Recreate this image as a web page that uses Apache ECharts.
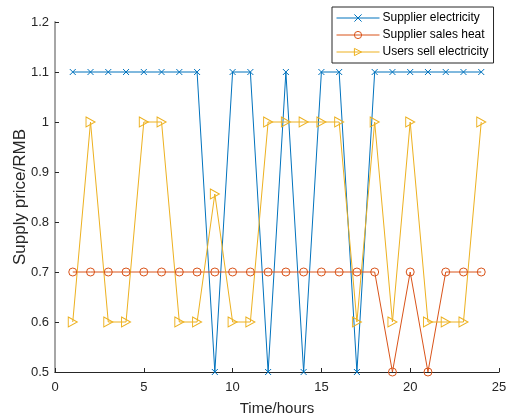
<!DOCTYPE html>
<html>
<head>
<meta charset="utf-8">
<script src="https://cdn.jsdelivr.net/npm/echarts@6/dist/echarts.min.js"></script>
<style>
  html, body { margin: 0; padding: 0; background: #fff; }
  #chart { width: 507px; height: 417px; }
</style>
</head>
<body>
<div id="chart"></div>
<script>
// Hourly supply prices (RMB) over one day
const hours = [1, 2, 3, 4, 5, 6, 7, 8, 9, 10, 11, 12, 13, 14, 15, 16, 17, 18, 19, 20, 21, 22, 23, 24];
const supplierElectricity = [1.1, 1.1, 1.1, 1.1, 1.1, 1.1, 1.1, 1.1, 0.5, 1.1, 1.1, 0.5, 1.1, 0.5, 1.1, 1.1, 0.5, 1.1, 1.1, 1.1, 1.1, 1.1, 1.1, 1.1];
const supplierSalesHeat = [0.7, 0.7, 0.7, 0.7, 0.7, 0.7, 0.7, 0.7, 0.7, 0.7, 0.7, 0.7, 0.7, 0.7, 0.7, 0.7, 0.7, 0.7, 0.5, 0.7, 0.5, 0.7, 0.7, 0.7];
const usersSellElectricity = [0.6, 1.0, 0.6, 0.6, 1.0, 1.0, 0.6, 0.6, 0.856, 0.6, 0.6, 1.0, 1.0, 1.0, 1.0, 1.0, 0.6, 1.0, 0.6, 1.0, 0.6, 0.6, 0.6, 1.0];
const seriesNames = ['Supplier electricity', 'Supplier sales heat', 'Users sell electricity'];

const COLORS = ['#0072BD', '#D95319', '#EDB120'];
const FONT = 'Liberation Sans, Arial, sans-serif';
const TEXT = '#262626';

function pairs(values) {
  return hours.map((h, i) => [h, values[i]]);
}

function lineSeries(name, values, color, symbol, size) {
  return {
    name: name,
    type: 'line',
    data: pairs(values),
    symbol: symbol,
    symbolSize: size,
    showAllSymbol: true,
    animation: false,
    lineStyle: { color: color, width: 1 },
    itemStyle: { color: 'rgba(255,255,255,0)', borderColor: color, borderWidth: 1 }
  };
}

const chart = echarts.init(document.getElementById('chart'), null, { renderer: 'canvas' });
chart.setOption({
  animation: false,
  backgroundColor: '#fff',
  textStyle: { fontFamily: FONT },
  grid: { left: 55, right: 8, top: 22, bottom: 45, containLabel: false, outerBoundsMode: 'none' },
  legend: {
    data: seriesNames,
    orient: 'vertical',
    left: 332,
    top: 7,
    itemWidth: 43,
    itemHeight: 9,
    itemGap: 5,
    padding: [5, 5, 5, 4],
    borderColor: TEXT,
    borderWidth: 1,
    backgroundColor: '#fff',
    lineStyle: { width: 1 },
    itemStyle: { borderWidth: 1 },
    textStyle: { fontFamily: FONT, fontSize: 12, color: '#000', padding: [0, 0, 0, -2] }
  },
  xAxis: {
    type: 'value',
    min: 0, max: 25, interval: 5,
    name: 'Time/hours',
    nameLocation: 'middle',
    nameGap: 29,
    nameMoveOverlap: false,
    nameTextStyle: { fontFamily: FONT, fontSize: 15, color: TEXT },
    axisLine: { show: true, lineStyle: { color: TEXT, width: 1 } },
    axisTick: { show: true, inside: true, length: 4, lineStyle: { color: TEXT } },
    axisLabel: { fontFamily: FONT, fontSize: 13, color: TEXT, margin: 9 },
    splitLine: { show: false }
  },
  yAxis: {
    type: 'value',
    min: 0.5, max: 1.2, interval: 0.1,
    name: 'Supply price/RMB',
    nameLocation: 'middle',
    nameGap: 26,
    nameMoveOverlap: false,
    nameTextStyle: { fontFamily: FONT, fontSize: 17, color: TEXT },
    axisLine: { show: true, lineStyle: { color: '#a6a6a6', width: 2 } },
    axisTick: { show: true, inside: true, length: 4, lineStyle: { color: TEXT } },
    axisLabel: { fontFamily: FONT, fontSize: 13, color: TEXT, margin: 6 },
    splitLine: { show: false }
  },
  series: [
    lineSeries(seriesNames[0], supplierElectricity, COLORS[0], 'path://M0,0L10,10M10,0L0,10', 6),
    lineSeries(seriesNames[1], supplierSalesHeat, COLORS[1], 'circle', 8),
    lineSeries(seriesNames[2], usersSellElectricity, COLORS[2], 'path://M0,0L10,5L0,10Z', [9, 10])
  ]
});
</script>
</body>
</html>
